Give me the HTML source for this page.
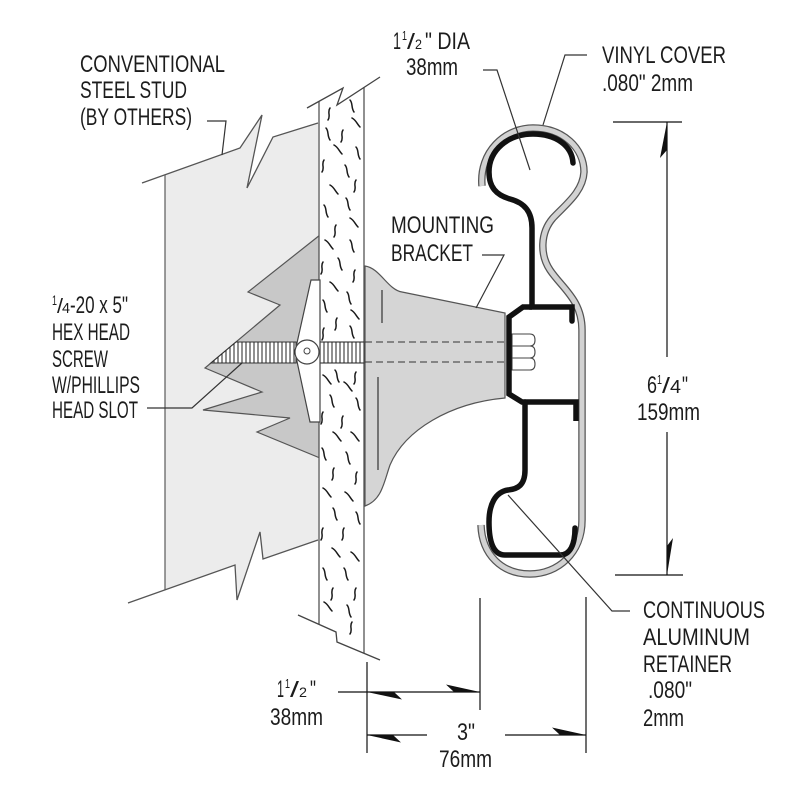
<!DOCTYPE html>
<html>
<head>
<meta charset="utf-8">
<style>
html,body{margin:0;padding:0;background:#fff;}
svg{display:block;}
text{font-family:"Liberation Sans",Arial,sans-serif;fill:#1c1c1c;}
</style>
</head>
<body>
<svg width="800" height="800" viewBox="0 0 800 800" xmlns="http://www.w3.org/2000/svg">
<rect width="800" height="800" fill="#fff"/>

<!-- Steel stud -->
<path d="M165 175 L240 148 L262 115 L247 188 L273 137 L318 123 L318 540 L263 559 L260 532 L237 600 L235 565 L165 590 Z" fill="#ececec"/>
<path d="M142 183 L240 148 L262 115 L247 188 L273 137 L318 123" fill="none" stroke="#555" stroke-width="1.3"/>
<path d="M165 175 L165 590" stroke="#666" stroke-width="1.3"/>
<path d="M128 603 L235 565 L237 600 L260 532 L263 559 L318 540" fill="none" stroke="#555" stroke-width="1.3"/>

<!-- Toggle wings -->
<path d="M320 235 L248 292 L280 305 L205 368 L262 392 L203 410 L290 418 L257 432 L320 458 Z" fill="#c8c8c8" stroke="#555" stroke-width="1.2"/>

<!-- Wall board -->
<path d="M319 101 L343 88 L337 105 L364 87 L364 653 L337 642 L336 632 L319 624 Z" fill="#fff"/>
<path d="M319 101 L319 624 M364 87 L364 653" stroke="#555" stroke-width="1.3"/>
<path d="M307 108 L343 88 L337 105 L380 77" fill="none" stroke="#444" stroke-width="1.3"/>
<path d="M298 615 L336 632 L337 642 L380 660" fill="none" stroke="#444" stroke-width="1.3"/>
<path fill="none" stroke="#1a1a1a" stroke-width="1.5" stroke-linecap="round" d="
M350 100 c3 3 1 8 4 12
M330 108 c-3 4 1 8 -2 12
M352 118 c4 2 5 6 8 9
M326 128 c3 3 1 8 4 12
M343 130 c-3 4 1 8 -2 12
M334 145 c4 2 5 6 8 9
M356 147 c3 3 1 8 4 12
M324 160 c-3 4 1 8 -2 12
M345 165 c3 3 1 8 4 12
M356 180 c-3 4 1 8 -2 12
M330 185 c4 2 5 6 8 9
M346 198 c3 3 1 8 4 12
M324 205 c3 3 1 8 4 12
M350 218 c4 2 5 6 8 9
M336 225 c-3 4 1 8 -2 12
M325 240 c4 2 5 6 8 9
M350 240 c3 3 1 8 4 12
M338 258 c3 3 1 8 4 12
M323 262 c-3 4 1 8 -2 12
M355 270 c-3 4 1 8 -2 12
M330 282 c4 2 5 6 8 9
M347 292 c3 3 1 8 4 12
M323 300 c3 3 1 8 4 12
M351 310 c4 2 5 6 8 9
M337 318 c-3 4 1 8 -2 12
M324 328 c-3 4 1 8 -2 12
M350 326 c3 3 1 8 4 12
M335 370 c3 3 1 8 4 12
M356 372 c-3 4 1 8 -2 12
M323 375 c4 2 5 6 8 9
M344 382 c4 2 5 6 8 9
M330 395 c3 3 1 8 4 12
M356 398 c3 3 1 8 4 12
M323 412 c-3 4 1 8 -2 12
M343 416 c-3 4 1 8 -2 12
M333 432 c4 2 5 6 8 9
M351 432 c4 2 5 6 8 9
M322 448 c3 3 1 8 4 12
M346 452 c3 3 1 8 4 12
M334 468 c-3 4 1 8 -2 12
M357 472 c-3 4 1 8 -2 12
M323 488 c4 2 5 6 8 9
M345 492 c4 2 5 6 8 9
M333 508 c3 3 1 8 4 12
M356 512 c3 3 1 8 4 12
M323 528 c-3 4 1 8 -2 12
M344 528 c-3 4 1 8 -2 12
M332 548 c4 2 5 6 8 9
M351 552 c4 2 5 6 8 9
M323 568 c3 3 1 8 4 12
M344 568 c3 3 1 8 4 12
M333 588 c-3 4 1 8 -2 12
M356 588 c-3 4 1 8 -2 12
M324 602 c4 2 5 6 8 9
M347 605 c3 3 1 8 4 12
M352 622 c-3 4 1 8 -2 12
"/>

<!-- Screw threads (left) -->
<path d="M236 342 L296 342 L296 363 L211 363 Z" fill="#fff" stroke="#333" stroke-width="1.1"/>
<clipPath id="scl"><path d="M236 342 L296 342 L296 363 L211 363 Z"/></clipPath>
<g clip-path="url(#scl)" stroke="#222" stroke-width="1">
<path d="M214 342V363M218 342V363M222 342V363M226 342V363M230 342V363M234 342V363M238 342V363M242 342V363M246 342V363M250 342V363M254 342V363M258 342V363M262 342V363M266 342V363M270 342V363M274 342V363M278 342V363M282 342V363M286 342V363M290 342V363M294 342V363"/>
</g>
<!-- Screw threads (through wall) -->
<rect x="320" y="342" width="44" height="21" fill="#fff" stroke="#333" stroke-width="1.1"/>
<path stroke="#222" stroke-width="1" d="M324 342V363M328 342V363M332 342V363M336 342V363M340 342V363M344 342V363M348 342V363M352 342V363M356 342V363M360 342V363"/>

<!-- Toggle -->
<path d="M311 280 L320 280 L320 422 L310 422 L295 352 Z" fill="#fff" stroke="#444" stroke-width="1.2"/>
<circle cx="307" cy="352" r="12" fill="#fff" stroke="#444" stroke-width="1.2"/>
<circle cx="307" cy="351" r="3" fill="#fff" stroke="#444" stroke-width="1"/>

<!-- Mounting bracket -->
<path d="M365 266 C380 268 388 290 402 292 L505 313 L505 398 C450 403 405 430 390 465 C384 482 382 500 365 506 Z" fill="#d5d5d5" stroke="#555" stroke-width="1.2"/>
<path d="M382 290 L382 323 M378 377 L378 470" stroke="#333" stroke-width="1.2"/>
<path d="M365 342 L508 342 M365 362 L508 362" stroke="#333" stroke-width="1.1" stroke-dasharray="7 4"/>

<!-- Hex nut -->
<path d="M512 334 L530 334 Q535 334 535 340 Q535 346 530 346 L512 346 Z M512 346 L530 346 Q535 346 535 352 Q535 358 530 358 L512 358 Z M512 358 L530 358 Q535 358 535 364 Q535 370 530 370 L512 370 Z" fill="#fff" stroke="#444" stroke-width="1.1"/>

<!-- Vinyl cover -->
<path d="M482 186 C479 152 505 128 533 128 C563 128 584 148 584 172 C583 192 565 205 553 218 C540 233 540 255 550 270 C562 288 582 300 582 330 L582 520 C582 553 558 574 530 574 C502 574 482 555 481 525" fill="none" stroke="#555" stroke-width="7.5"/>
<path d="M482 186 C479 152 505 128 533 128 C563 128 584 148 584 172 C583 192 565 205 553 218 C540 233 540 255 550 270 C562 288 582 300 582 330 L582 520 C582 553 558 574 530 574 C502 574 482 555 481 525" fill="none" stroke="#d2d2d2" stroke-width="5"/>

<!-- Aluminum retainer -->
<g fill="none" stroke="#111" stroke-width="5.5">
<path d="M573 163 C572 145 555 134 533 134 C508 134 489 150 489 172 C489 187 496 195 510 199 C525 203 532 212 532 228 L532 307 L572 307 L572 321" stroke-linecap="round"/>
<path d="M532 307 L523 307 L509 317 L509 394 L522 402 L576 402 L576 421"/>
<path d="M525 402 L525 470 C525 485 518 489 508 490 C495 492 489 505 489 522 C489 545 495 555 505 555 L560 555 C570 555 575 545 575 528" stroke-linecap="round"/>
</g>

<!-- Leaders -->
<g fill="none" stroke="#333" stroke-width="1.2">
<path d="M207 121 L226 121 L222 155"/>
<path d="M483 70 L497 70 L530 170"/>
<path d="M587 55 L565 55 L543 125"/>
<path d="M482 255 L504 255 L476 308"/>
<path d="M147 408 L192 408 L242 363"/>
<path d="M630 611 L612 611 L508 495"/>
</g>

<!-- Dimensions -->
<g stroke="#111" stroke-width="1.2" fill="none">
<path d="M613 122 L682 122 M615 575 L683 575"/>
<path d="M667 122 L667 357 M667 432 L667 575"/>
<path d="M367 662 L367 753 M480 598 L480 710 M586 597 L586 753"/>
<path d="M338 692 L480 692"/>
<path d="M367 735 L427 735 M505 735 L586 735"/>
</g>
<g fill="#111">
<polygon points="667,122 660,158 667,150"/>
<polygon points="667,575 673,538 667,546"/>
<polygon points="367,692 402,699.5 394,692"/>
<polygon points="480,692 446,684.5 454,692"/>
<polygon points="367,735 401,742.5 393,735"/>
<polygon points="586,735 552,727.5 560,735"/>
</g>

<!-- Text -->
<g font-size="24">
<text x="80" y="72" textLength="145" lengthAdjust="spacingAndGlyphs">CONVENTIONAL</text>
<text x="80" y="98" textLength="107" lengthAdjust="spacingAndGlyphs">STEEL STUD</text>
<text x="80" y="125" textLength="112" lengthAdjust="spacingAndGlyphs">(BY OTHERS)</text>

<text x="393" y="49" textLength="8" lengthAdjust="spacingAndGlyphs">1</text>
<text x="402" y="40" font-size="13" textLength="5" lengthAdjust="spacingAndGlyphs">1</text>
<text x="407" y="49" font-size="22" textLength="8" lengthAdjust="spacingAndGlyphs">/</text>
<text x="415" y="49" font-size="14" textLength="7" lengthAdjust="spacingAndGlyphs">2</text>
<text x="425" y="49" textLength="45" lengthAdjust="spacingAndGlyphs">" DIA</text>
<text x="406" y="75" textLength="52" lengthAdjust="spacingAndGlyphs">38mm</text>

<text x="602" y="63" textLength="124" lengthAdjust="spacingAndGlyphs">VINYL COVER</text>
<text x="602" y="91" textLength="91" lengthAdjust="spacingAndGlyphs">.080" 2mm</text>

<text x="391" y="233" textLength="103" lengthAdjust="spacingAndGlyphs">MOUNTING</text>
<text x="391" y="261" textLength="82" lengthAdjust="spacingAndGlyphs">BRACKET</text>

<text x="52" y="305" font-size="14" textLength="5" lengthAdjust="spacingAndGlyphs">1</text>
<text x="57" y="313" font-size="20" textLength="6" lengthAdjust="spacingAndGlyphs">/</text>
<text x="62" y="313" font-size="15" textLength="8" lengthAdjust="spacingAndGlyphs">4</text>
<text x="70" y="313" textLength="58" lengthAdjust="spacingAndGlyphs">-20 x 5"</text>
<text x="52" y="340" textLength="78" lengthAdjust="spacingAndGlyphs">HEX HEAD</text>
<text x="52" y="367" textLength="56" lengthAdjust="spacingAndGlyphs">SCREW</text>
<text x="52" y="393" textLength="88" lengthAdjust="spacingAndGlyphs">W/PHILLIPS</text>
<text x="52" y="418" textLength="86" lengthAdjust="spacingAndGlyphs">HEAD SLOT</text>

<text x="647" y="393" textLength="10" lengthAdjust="spacingAndGlyphs">6</text>
<text x="657" y="384" font-size="13" textLength="5" lengthAdjust="spacingAndGlyphs">1</text>
<text x="662" y="393" font-size="22" textLength="8" lengthAdjust="spacingAndGlyphs">/</text>
<text x="670" y="393" font-size="18" textLength="11" lengthAdjust="spacingAndGlyphs">4</text>
<text x="682" y="393" textLength="6" lengthAdjust="spacingAndGlyphs">"</text>
<text x="637" y="420" textLength="63" lengthAdjust="spacingAndGlyphs">159mm</text>

<text x="277" y="697" textLength="7" lengthAdjust="spacingAndGlyphs">1</text>
<text x="285" y="688" font-size="13" textLength="5" lengthAdjust="spacingAndGlyphs">1</text>
<text x="290" y="697" font-size="22" textLength="9" lengthAdjust="spacingAndGlyphs">/</text>
<text x="299" y="697" font-size="14" textLength="8" lengthAdjust="spacingAndGlyphs">2</text>
<text x="310" y="697" textLength="6" lengthAdjust="spacingAndGlyphs">"</text>
<text x="270" y="725" textLength="53" lengthAdjust="spacingAndGlyphs">38mm</text>

<text x="457" y="740" textLength="18" lengthAdjust="spacingAndGlyphs">3"</text>
<text x="439" y="767" textLength="53" lengthAdjust="spacingAndGlyphs">76mm</text>

<text x="643" y="618" textLength="122" lengthAdjust="spacingAndGlyphs">CONTINUOUS</text>
<text x="643" y="645" textLength="107" lengthAdjust="spacingAndGlyphs">ALUMINUM</text>
<text x="643" y="672" textLength="89" lengthAdjust="spacingAndGlyphs">RETAINER</text>
<text x="648" y="698" textLength="44" lengthAdjust="spacingAndGlyphs">.080"</text>
<text x="643" y="726" textLength="41" lengthAdjust="spacingAndGlyphs">2mm</text>
</g>
</svg>
</body>
</html>
